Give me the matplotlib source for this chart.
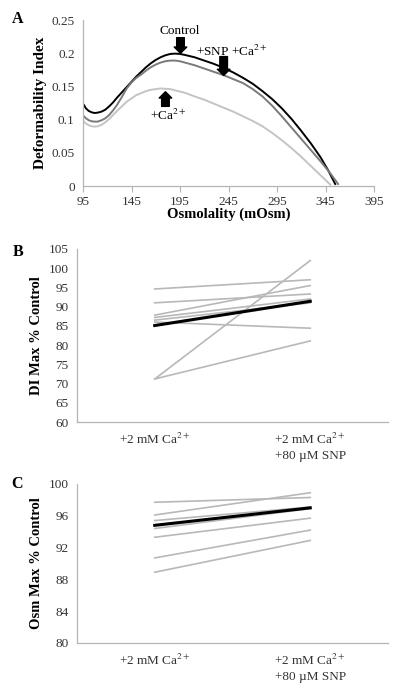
import numpy as np
import matplotlib
matplotlib.use('Agg')
import matplotlib.pyplot as plt

plt.rcParams['font.family'] = ['Liberation Serif', 'DejaVu Serif']
plt.rcParams['mathtext.fontset'] = 'stix'

# ---- panel A: deformability curves ----
osm_ctrl = [96, 98, 101, 104, 107, 110, 114, 118, 122, 126, 130, 135, 140, 145,
            150, 155, 160, 165, 170, 175, 180, 185, 190, 195, 200, 210, 220, 230,
            240, 250, 260, 270, 280, 290, 300, 310, 320, 330, 340, 348, 355]
di_ctrl = [0.122, 0.117, 0.113, 0.111, 0.110, 0.1105, 0.112, 0.115, 0.120, 0.126,
           0.133, 0.141, 0.149, 0.157, 0.165, 0.172, 0.179, 0.185, 0.190, 0.194,
           0.197, 0.199, 0.1995, 0.199, 0.1975, 0.194, 0.189, 0.184, 0.178, 0.171,
           0.163, 0.154, 0.143, 0.131, 0.117, 0.101, 0.083, 0.064, 0.043, 0.023, 0.003]

osm_snp = [96, 98, 101, 104, 107, 110, 114, 118, 122, 126, 130, 135, 140, 145,
           150, 155, 160, 165, 170, 175, 180, 185, 190, 195, 200, 210, 220, 230,
           240, 250, 260, 270, 280, 290, 300, 310, 320, 330, 340, 350, 358]
di_snp = [0.105, 0.102, 0.099, 0.0975, 0.097, 0.097, 0.099, 0.102, 0.107, 0.114,
          0.122, 0.134, 0.147, 0.156, 0.163, 0.168, 0.174, 0.179, 0.183, 0.186,
          0.188, 0.189, 0.189, 0.188, 0.186, 0.182, 0.177, 0.172, 0.167, 0.161,
          0.155, 0.146, 0.135, 0.121, 0.105, 0.088, 0.071, 0.054, 0.037, 0.019, 0.003]

osm_ca = [96, 98, 101, 104, 107, 110, 114, 118, 122, 126, 130, 135, 140, 145,
          150, 155, 160, 165, 170, 175, 180, 185, 190, 200, 210, 220, 230, 240,
          250, 260, 270, 280, 290, 300, 310, 320, 330, 340, 350]
di_ca = [0.097, 0.094, 0.0915, 0.090, 0.0895, 0.090, 0.092, 0.096, 0.101, 0.107,
         0.113, 0.120, 0.127, 0.132, 0.137, 0.140, 0.143, 0.145, 0.146, 0.147,
         0.1465, 0.146, 0.144, 0.1405, 0.135, 0.130, 0.124, 0.118, 0.112, 0.105,
         0.098, 0.090, 0.080, 0.069, 0.057, 0.044, 0.030, 0.016, 0.002]

# ---- panel B: DI max % control ----
b_start = [94.6, 91.0, 87.8, 87.2, 86.5, 86.0, 71.2, 71.2]
b_end = [97.0, 93.3, 95.5, 92.0, 91.0, 84.4, 102.0, 81.1]
b_mean = [85.1, 91.4]

# ---- panel C: Osm max % control ----
c_start = [97.7, 96.1, 95.4, 94.4, 93.3, 90.7, 88.9]
c_end = [98.3, 98.9, 97.1, 96.9, 95.7, 94.2, 92.9]
c_mean = [94.8, 97.0]

cat_labels = ['+2 mM Ca$^{2+}$', '+2 mM Ca$^{2+}$\n+80 \u00b5M SNP']

spine_col = '#b5b5b5'
tick_col = '#333333'

fig = plt.figure(figsize=(4.0, 6.93), dpi=100)


def style(ax):
    for s in ['top', 'right']:
        ax.spines[s].set_visible(False)
    for s in ['left', 'bottom']:
        ax.spines[s].set_color(spine_col)
        ax.spines[s].set_linewidth(0.9)
    ax.tick_params(colors=spine_col, labelcolor=tick_col, labelsize=9.5)
    ax.tick_params(axis='y', length=0, pad=6)


# A
axA = fig.add_axes([0.2075, 0.7316, 0.7275, 0.2394])
axA.plot(osm_ctrl, di_ctrl, color='black', lw=1.4)
axA.plot(osm_snp, di_snp, color='#7a7a7a', lw=1.4)
axA.plot(osm_ca, di_ca, color='#c4c4c4', lw=1.4)
axA.set_xlim(95, 395)
axA.set_ylim(0, 0.25)
axA.set_xticks(np.arange(95, 396, 50))
axA.set_yticks([0, 0.05, 0.1, 0.15, 0.2, 0.25])
axA.set_yticklabels(['0', '0.05', '0.1', '0.15', '0.2', '0.25'])
style(axA)
axA.tick_params(axis='x', length=4, direction='out', pad=3)
axA.set_xlabel('Osmolality (mOsm)', fontsize=10.5, fontweight='bold', labelpad=0)
axA.set_ylabel('Deformability Index', fontsize=11, fontweight='bold', labelpad=3)

arrow = dict(arrowstyle='simple,head_width=0.9,head_length=0.45,tail_width=0.55',
             fc='black', ec='black', mutation_scale=10, shrinkA=0, shrinkB=0)
axA.text(195, 0.2335, 'Control', ha='center', va='center', fontsize=9.5)
axA.annotate('', xy=(195.5, 0.2), xytext=(195.5, 0.2235), arrowprops=arrow)
axA.text(248, 0.2025, '+SNP +Ca$^{2+}$', ha='center', va='center', fontsize=9.5)
axA.annotate('', xy=(240, 0.1665), xytext=(240, 0.195), arrowprops=arrow)
axA.text(183, 0.106, '+Ca$^{2+}$', ha='center', va='center', fontsize=9.5)
axA.annotate('', xy=(180, 0.142), xytext=(180, 0.12), arrowprops=arrow)
fig.text(0.045, 0.973, 'A', fontsize=11.5, fontweight='bold', va='center', ha='center')

# B
axB = fig.add_axes([0.1925, 0.391, 0.7775, 0.2497])
for s, e in zip(b_start, b_end):
    axB.plot([0.5, 1.5], [s, e], color='#b8b8b8', lw=1.2)
axB.plot([0.5, 1.5], b_mean, color='black', lw=2.2)
axB.set_xlim(0, 2)
axB.set_ylim(60, 105)
axB.set_yticks(np.arange(60, 106, 5))
axB.set_xticks([0.5, 1.5])
axB.set_xticklabels(cat_labels, fontsize=10, linespacing=1.35)
style(axB)
axB.tick_params(axis='x', length=0, pad=7)
axB.set_ylabel('DI Max % Control', fontsize=10.5, fontweight='bold', labelpad=4)
fig.text(0.045, 0.637, 'B', fontsize=11.5, fontweight='bold', va='center', ha='center')

# C
axC = fig.add_axes([0.1925, 0.0722, 0.7775, 0.2294])
for s, e in zip(c_start, c_end):
    axC.plot([0.5, 1.5], [s, e], color='#b8b8b8', lw=1.2)
axC.plot([0.5, 1.5], c_mean, color='black', lw=2.2)
axC.set_xlim(0, 2)
axC.set_ylim(80, 100)
axC.set_yticks(np.arange(80, 101, 4))
axC.set_xticks([0.5, 1.5])
axC.set_xticklabels(cat_labels, fontsize=10, linespacing=1.35)
style(axC)
axC.tick_params(axis='x', length=0, pad=7)
axC.set_ylabel('Osm Max % Control', fontsize=10.5, fontweight='bold', labelpad=4)
fig.text(0.043, 0.301, 'C', fontsize=11.5, fontweight='bold', va='center', ha='center')

fig.savefig('out.png', dpi=100)
